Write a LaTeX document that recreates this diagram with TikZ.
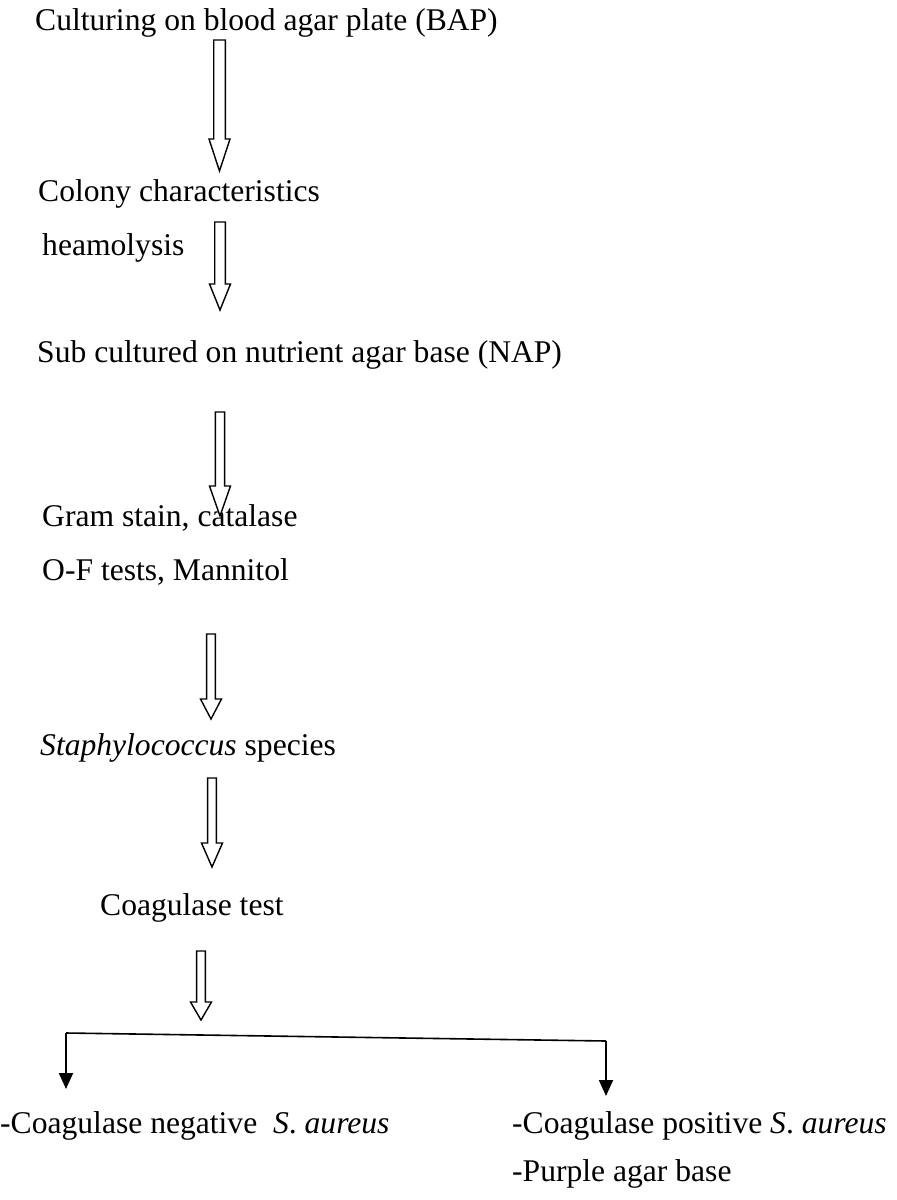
\documentclass[tikz,border=0pt]{standalone}
\usepackage{fontspec}
\setmainfont{Liberation Serif}
\usetikzlibrary{arrows.meta}
\newcommand\hollowarrow[6]{% name, x, top, headtop, tip, shaft half width
  \coordinate (#1) at (#2,#3);
  \draw[harrow] (#2-#6,#3) -- (#2+#6,#3) -- (#2+#6,#4) -- (#2+10.5,#4) -- (#2,#5)
    -- (#2-10.5,#4) -- (#2-#6,#4) -- cycle;}
\begin{document}
\begin{tikzpicture}[x=1pt,y=-1pt,
  txt/.style={anchor=base west,inner sep=0pt,font=\fontsize{31.6}{38}\selectfont},
  harrow/.style={line width=1.4pt,line join=miter,fill=white},
  branch/.style={line width=1.6pt},
  tip/.style={line width=2pt,-{Triangle[width=14pt,length=16pt]}}]
\useasboundingbox[fill=white] (0,0) rectangle (897,1200);
\node[txt] (n1) at (35,30) {Culturing on blood agar plate (BAP)};
\node[txt] (n2) at (38,201) {Colony characteristics};
\node[txt] (n2b) at (42,255) {heamolysis};
\node[txt] (n3) at (37,362) {Sub cultured on nutrient agar base (NAP)};
\node[txt] (n4) at (42,526) {Gram stain, catalase};
\node[txt] (n4b) at (42,580) {O-F tests, Mannitol};
\node[txt] (n5) at (40,755) {\textit{Staphylococcus} species};
\node[txt] (n6) at (100,915) {Coagulase test};
\node[txt] (n7) at (0,1133) {-Coagulase negative\ \ \textit{S}. \textit{aureus}};
\node[txt] (n8) at (512,1133) {-Coagulase positive \textit{S}. \textit{aureus}};
\node[txt] (n8b) at (512,1181) {-Purple agar base};
\hollowarrow{a1}{219.5}{40}{139}{171}{5.8}
\hollowarrow{a2}{220}{222}{284}{310}{5.3}
\hollowarrow{a3}{220}{412}{486}{516}{4.6}
\hollowarrow{a4}{211}{634}{699}{719}{4.4}
\hollowarrow{a5}{212}{778}{843}{867}{4.4}
\hollowarrow{a6}{201}{951}{1002}{1020}{4.4}
\coordinate (bl) at (66,1033);
\coordinate (br) at (606,1041);
\coordinate (el) at (66,1089);
\coordinate (er) at (606,1096);
\draw[branch] (bl) -- (br);
\draw[tip] (bl) -- (el);
\draw[tip] (br) -- (er);
\end{tikzpicture}
\end{document}
